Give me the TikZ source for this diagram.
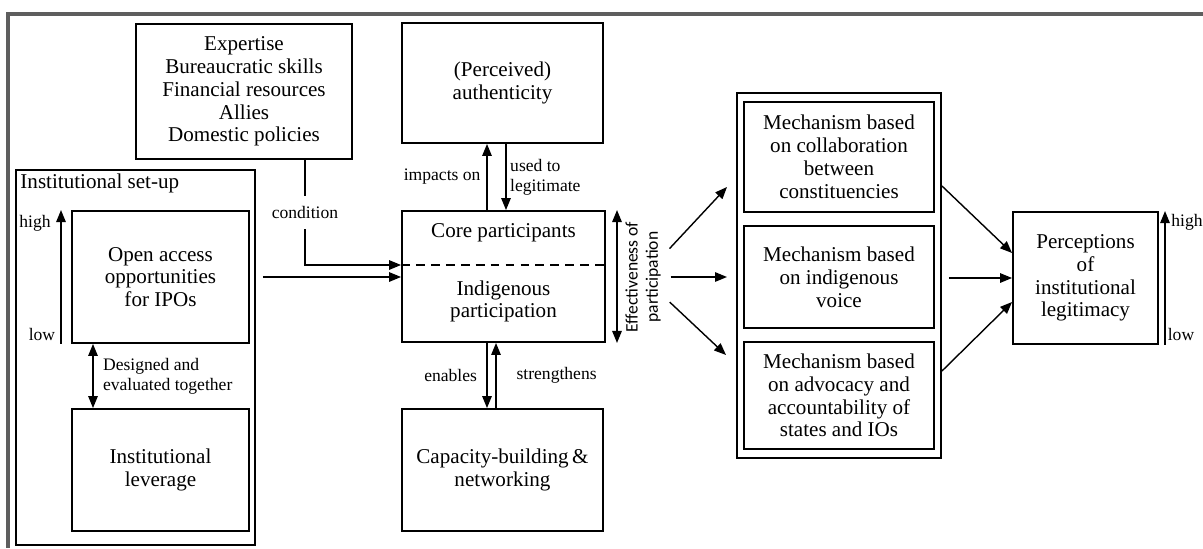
\documentclass[tikz,border=0pt]{standalone}
\usepackage{fontspec}
\setmainfont{Liberation Serif}
\newfontfamily\calibri{Carlito}
\usetikzlibrary{arrows.meta}

\begin{document}
\begin{tikzpicture}[x=0.02cm,y=-0.02cm,line width=0.8pt,
    >={Triangle[length=0.24cm,width=0.19cm]}]

        \useasboundingbox (0,0) rectangle (1203,548);
        \draw[line width=2.3pt,color=black!63] (1203,14) -- (8,14) -- (8,548);

        % boxes
        \begin{scope}[every node/.style={draw,rectangle,line width=1.1pt,align=center,
            font=\fontsize{12}{13}\selectfont}]
          \node[minimum width=4.32cm,minimum height=2.7cm] (res) at (244,91.5)
            {Expertise\\Bureaucratic skills\\Financial resources\\Allies\\Domestic policies};
          \node[minimum width=4.78cm,minimum height=7.5cm] (setup) at (135.5,357.5) {};
          \node[minimum width=3.54cm,minimum height=2.64cm] (open) at (160.5,277)
            {Open access\\opportunities\\for IPOs};
          \node[minimum width=3.54cm,minimum height=2.44cm] (lever) at (160.5,470)
            {Institutional\\leverage};
          \node[minimum width=4.02cm,minimum height=2.4cm] (auth) at (502.5,83)
            {(Perceived)\\authenticity};
          \node[minimum width=4.06cm,minimum height=2.62cm] (core) at (503.5,276.5) {};
          \node[minimum width=4.02cm,minimum height=2.44cm] (cap) at (502.5,470)
            {Capacity-building\,\&\\networking};
          \node[minimum width=4.08cm,minimum height=7.3cm] (mechs) at (839,275.5) {};
          \node[minimum width=3.8cm,minimum height=2.2cm] (m1) at (839,157)
            {Mechanism based\\on collaboration\\between\\constituencies};
          \node[minimum width=3.8cm,minimum height=2.04cm] (m2) at (839,277)
            {Mechanism based\\on indigenous\\voice};
          \node[minimum width=3.8cm,minimum height=2.14cm] (m3) at (839,395.5)
            {Mechanism based\\on advocacy and\\accountability of\\states and IOs};
          \node[minimum width=2.9cm,minimum height=2.64cm] (perc) at (1085.5,278)
            {Perceptions\\of\\institutional\\legitimacy};
        \end{scope}

        \begin{scope}[every node/.style={align=center,font=\fontsize{12}{13}\selectfont}]
          \node[anchor=west,inner sep=1pt] (setuplbl) at (18,183) {Institutional set-up};
          \node (corelbl) at (503.5,233) {Core participants};
          \node (partlbl) at (503.5,301.5) {Indigenous\\participation};
        \end{scope}

        \draw[dash pattern=on 5pt off 3.5pt] (core.west |- 0,265) -- (core.east |- 0,265);

        \begin{scope}[every node/.style={font=\fontsize{10}{11.4}\selectfont}]
          \node (high1) at (35,223) {high};
          \node (low1) at (42,334) {low};
          \node (high2) at (1187,222) {high};
          \node (low2) at (1181,334) {low};
          \node[rotate=90,align=center,font=\calibri\fontsize{10}{11.5}\selectfont]
            (eff) at (643,277) {Effectiveness of\\participation};
        \end{scope}

        \coordinate (in1) at (727,187);
        \coordinate (in2) at (727,277);
        \coordinate (in3) at (726,355);

        \begin{scope}[every node/.style={font=\fontsize{10}{11.4}\selectfont}]

          \begin{scope}[every edge/.style={draw,->}]
            \path (open.south -| 61,0) edge (open.north -| 61,0);
            \path (open.south -| 93,0) edge[<->] node[right,align=left,xshift=2pt]
              {Designed and\\evaluated together} (lever.north -| 93,0);
            \path (setup.east |- open.east) edge[shorten <=0.14cm] (core.west |- open.east);
            \path (core.north -| 487,0) edge node[left] {impacts on} (auth.south -| 487,0);
            \path (auth.south -| 506,0) edge node[right,align=left,inner xsep=2pt]
              {used to\\legitimate} (core.north -| 506,0);
            \path (core.south -| 487,0) edge node[left,xshift=-2pt] {enables} (cap.north -| 487,0);
            \path (cap.north -| 496,0) edge node[right,xshift=8pt] {strengthens} (core.south -| 496,0);
            \path (core.north -| 617,0) edge[<->] (core.south -| 617,0);
            \path (eff) edge[shorten <=2pt] (in1);
            \path (eff) edge[shorten <=2pt] (in2);
            \path (eff) edge[shorten <=2pt] (in3);
            \path (mechs.east |- 0,186) edge (perc.west |- 0,253);
            \path (mechs.east |- perc.west) edge[shorten <=0.14cm] (perc.west);
            \path (mechs.east |- 0,371) edge (perc.west |- 0,302);
            \path (perc.south -| 1165,0) edge (perc.north -| 1165,0);
          \end{scope}

          \draw[->] (res.south -| 305,0) |- (core.west |- 0,265)
            node[pos=0.25,fill=white,inner xsep=1pt,inner ysep=6pt] {condition};
        \end{scope}

      \end{tikzpicture}
\end{document}
